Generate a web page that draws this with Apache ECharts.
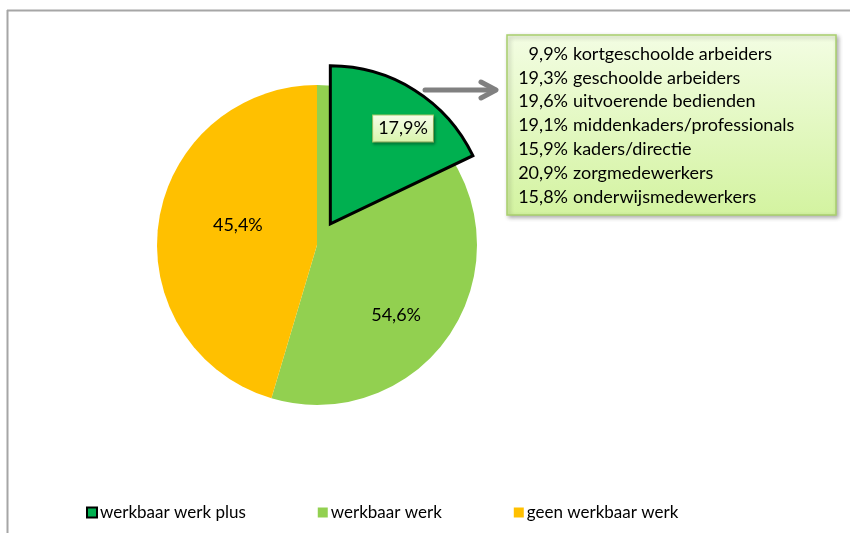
<!DOCTYPE html>
<html>
<head>
<meta charset="utf-8">
<script src="https://cdn.jsdelivr.net/npm/echarts@6/dist/echarts.min.js"></script>
<style>html,body{margin:0;padding:0;background:#fff}#c{width:850px;height:533px}</style>
</head>
<body>
<div id="c"></div>
<script>
// ---- data ----
const categories = ['werkbaar werk plus', 'werkbaar werk', 'geen werkbaar werk'];
const plusValue = 17.9;                 // werkbaar werk plus (part of werkbaar werk)
const mainValues = [54.6, 45.4];        // werkbaar werk, geen werkbaar werk
const subgroupValues = [9.9, 19.3, 19.6, 19.1, 15.9, 20.9, 15.8];
const subgroupNames = ['kortgeschoolde arbeiders', 'geschoolde arbeiders', 'uitvoerende bedienden',
  'middenkaders/professionals', 'kaders/directie', 'zorgmedewerkers', 'onderwijsmedewerkers'];

const colors = { plus: '#00B050', werk: '#92D050', geen: '#FFC000' };
const FONT = 'Lato';
const fmt = v => v.toFixed(1).replace('.', ',') + '%';

const chart = echarts.init(document.getElementById('c'), null, { renderer: 'canvas' });

const labelBox = {
  backgroundColor: { type: 'linear', x: 0, y: 0, x2: 0, y2: 1,
    colorStops: [{ offset: 0, color: '#f6fdea' }, { offset: 1, color: '#d8f5ab' }] },
  borderColor: '#a8cf6c', borderWidth: 1, padding: [5, 5, 3, 5],
  shadowColor: 'rgba(0,0,0,0.35)', shadowBlur: 3, shadowOffsetX: 1, shadowOffsetY: 2
};

// text box graphics
const boxX = 507, boxY = 35, boxW = 329, boxH = 180;
const lineStart = 54, lineStep = 23.8;
const textEls = [];
subgroupValues.forEach((v, i) => {
  textEls.push({ type: 'text', x: 568, y: lineStart + i * lineStep, z: 10,
    style: { text: fmt(v), font: '18px ' + FONT, fill: '#000', align: 'right', verticalAlign: 'middle' } });
  textEls.push({ type: 'text', x: 573, y: lineStart + i * lineStep, z: 10,
    style: { text: subgroupNames[i], font: '18px ' + FONT, fill: '#000', align: 'left', verticalAlign: 'middle' } });
});

const option = {
  backgroundColor: '#ffffff',
  animation: false,
  textStyle: { fontFamily: FONT },
  legend: {
    top: 504, left: 86, padding: 0,
    itemWidth: 10, itemHeight: 10, itemGap: 72,
    icon: 'rect',
    textStyle: { fontSize: 17, color: '#000', fontFamily: FONT, padding: [0, 0, 0, -2] },
    data: [
      { name: categories[0], itemStyle: { color: colors.plus, borderColor: '#000', borderWidth: 2 } },
      { name: categories[1], itemStyle: { color: colors.werk, borderWidth: 0 } },
      { name: categories[2], itemStyle: { color: colors.geen, borderWidth: 0 } }
    ],
    selectedMode: false
  },
  series: [
    {
      type: 'pie', name: 'base', center: [317, 245], radius: 160, startAngle: 90, clockwise: true,
      silent: true,
      label: { show: true, position: 'inside', fontSize: 18, color: '#000', fontFamily: FONT,
        formatter: p => fmt(p.value) },
      labelLine: { show: false },
      emphasis: { disabled: true },
      itemStyle: { borderWidth: 0 },
      labelLayout: p => p.dataIndex === 0 ? { dx: -3, dy: 58 } : { dx: 3, dy: -8 },
      data: [
        { name: categories[1], value: mainValues[0], itemStyle: { color: colors.werk } },
        { name: categories[2], value: mainValues[1], itemStyle: { color: colors.geen } }
      ]
    },
    {
      type: 'pie', name: 'plus', center: [317, 245], radius: 158, startAngle: 90, clockwise: true,
      silent: true, z: 3,
      selectedMode: 'single', selectedOffset: 25,
      labelLine: { show: false },
      emphasis: { disabled: true },
      labelLayout: p => ({ dx: 29, dy: -26 }),
      data: [
        { name: categories[0], value: plusValue, selected: true,
          itemStyle: { color: colors.plus, borderColor: '#000', borderWidth: 3, borderJoin: 'miter' },
          select: { itemStyle: { color: colors.plus, borderColor: '#000', borderWidth: 3 } },
          label: Object.assign({ show: true, position: 'inside', fontSize: 18, color: '#000',
            fontFamily: FONT, formatter: p => fmt(p.value) }, labelBox) },
        { name: '', value: 100 - plusValue,
          itemStyle: { color: 'rgba(0,0,0,0)', borderWidth: 0 },
          label: { show: false } }
      ]
    }
  ],
  graphic: [
    // chart frame
    { type: 'line', shape: { x1: 7, y1: 10.5, x2: 850, y2: 10.5 }, style: { stroke: '#a6a6a6', lineWidth: 2 }, z: 0 },
    { type: 'line', shape: { x1: 7.5, y1: 10, x2: 7.5, y2: 533 }, style: { stroke: '#a6a6a6', lineWidth: 2 }, z: 0 },
    // arrow
    { type: 'line', shape: { x1: 425, y1: 90, x2: 495, y2: 90 }, style: { stroke: '#808080', lineWidth: 5, lineCap: 'round' }, z: 5 },
    { type: 'polyline', shape: { points: [[481, 82], [496, 90], [481, 98]] },
      style: { stroke: '#808080', lineWidth: 5, lineCap: 'round', lineJoin: 'round', fill: null }, z: 5 },
    // text box
    { type: 'rect', shape: { x: boxX, y: boxY, width: boxW, height: boxH },
      style: {
        fill: { type: 'linear', x: 0, y: 0, x2: 0, y2: 1,
          colorStops: [{ offset: 0, color: '#f3fde3' }, { offset: 1, color: '#d3f3a0' }] },
        stroke: '#a9d06d', lineWidth: 1.5,
        shadowColor: 'rgba(0,0,0,0.3)', shadowBlur: 4, shadowOffsetX: 2, shadowOffsetY: 2
      }, z: 5 }
  ].concat(textEls)
};
chart.setOption(option);
</script>
</body>
</html>
